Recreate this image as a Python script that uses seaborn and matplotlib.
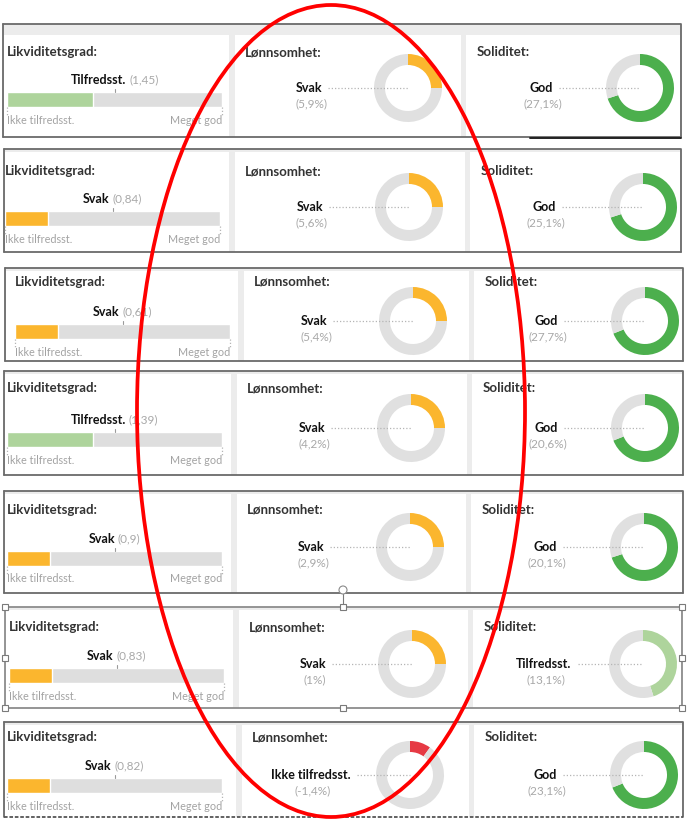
import matplotlib
matplotlib.use("Agg")
import matplotlib.pyplot as plt
from matplotlib.patches import Rectangle, Ellipse, Circle
import seaborn as sns

# Values (one entry per dashboard row)
liq_status = ['Tilfredsst.', 'Svak', 'Svak', 'Tilfredsst.', 'Svak', 'Svak', 'Svak']
liq_value = ['1,45', '0,84', '0,61', '1,39', '0,9', '0,83', '0,82']
liq_fill = [0.40, 0.20, 0.20, 0.40, 0.20, 0.20, 0.20]

lonn_status = ['Svak', 'Svak', 'Svak', 'Svak', 'Svak', 'Svak', 'Ikke tilfredsst.']
lonn_value = ['5,9%', '5,6%', '5,4%', '4,2%', '2,9%', '1%', '-1,4%']
lonn_fill = [0.25, 0.25, 0.25, 0.25, 0.25, 0.25, 0.10]

sol_status = ['God', 'God', 'God', 'God', 'God', 'Tilfredsst.', 'God']
sol_value = ['27,1%', '25,1%', '27,7%', '20,6%', '20,1%', '13,1%', '23,1%']
sol_fill = [0.70, 0.70, 0.69, 0.69, 0.70, 0.45, 0.69]

titles = ['Likviditetsgrad:', 'Lønnsomhet:', 'Soliditet:']
scale_low, scale_high = 'Ikke tilfredsst.', 'Meget god'

status_colors = {
    'Ikke tilfredsst.': '#e63a44',
    'Svak': '#fbb62e',
    'Tilfredsst.': '#aed49c',
    'God': '#4caf4d',
}
ring_gray = '#e0e0e0'
bar_gray = '#dedede'

# Layout of the pasted screenshots (pixels, from top left)
tops = [24, 149, 268, 371, 491, 607, 722]
bots = [137, 252, 361, 475, 593, 708, 817]
lefts = [3, 4, 5, 4, 4, 5, 4]
rights = [681, 681, 683, 683, 683, 682, 683]
title_y = [52, 171, 282, 388, 510, 627, 737]
bar_y0 = [92, 211, 324, 432, 551, 668, 778]
bar_x0 = [7, 5, 15, 7, 7, 9, 7]
sep1 = [229, 229, 238, 231, 231, 233, 236]
sep2 = [461, 465, 469, 467, 466, 468, 469]
cx1 = [408, 409, 413, 411, 410, 412, 410]
cx2 = [640, 643, 645, 645, 644, 643, 644]
cy = [88, 207, 321, 428, 547, 664, 775]
BAR_W, BAR_H, R = 215, 15, 34

W, H = 688, 824
sns.set_theme(style='white')
plt.rcParams['font.family'] = ['Lato', 'DejaVu Sans']

fig = plt.figure(figsize=(W / 100, H / 100), dpi=100)
fig.patch.set_facecolor('white')


def px_axes(x, y, w, h, z):
    a = fig.add_axes([x / W, 1 - (y + h) / H, w / W, h / H])
    a.set_zorder(z)
    a.set_xlim(0, w)
    a.set_ylim(h, 0)
    a.axis('off')
    return a


bg = px_axes(0, 0, W, H, 0)
ov = px_axes(0, 0, W, H, 5)
fig.canvas.draw()
renderer = fig.canvas.get_renderer()


def text_width(t):
    return t.get_window_extent(renderer).width


dots = dict(color='#b5b5b5', lw=0.9, ls=(0, (1, 1.6)))

for i in range(7):
    top, bot, left, right = tops[i], bots[i], lefts[i], rights[i]
    # row background and white cells
    bg.add_patch(Rectangle((left, top), right - left, bot - top, fc='#ececec', ec='none'))
    pad = 11 if i == 0 else 3
    cells = [(left + 1, sep1[i]), (sep1[i] + 6, sep2[i]), (sep2[i] + 5, right - 1)]
    for x0, x1 in cells:
        bg.add_patch(Rectangle((x0, top + pad), x1 - x0, bot - top - pad, fc='white', ec='none'))

    # border
    ec = '#8c8c8c' if i == 5 else '#6a6a6a'
    ov.plot([left, right, right], [top, top, bot], color=ec, lw=1.3)
    ov.plot([left, left], [top, bot], color=ec, lw=1.3)
    if i == 6:
        ov.plot([left, right], [bot, bot], color='#555555', lw=1.3, ls=(0, (2, 1)))
    else:
        ov.plot([left, right], [bot, bot], color=ec, lw=1.3)

    # titles
    ov.text(bar_x0[i], title_y[i], titles[0], fontsize=9.5, fontweight='bold', color='#333333', va='center')
    ov.text(sep1[i] + 16, title_y[i], titles[1], fontsize=9.5, fontweight='bold', color='#333333', va='center')
    ov.text(sep2[i] + 16, title_y[i], titles[2], fontsize=9.5, fontweight='bold', color='#333333', va='center')

    # Likviditetsgrad bar
    axb = px_axes(bar_x0[i], bar_y0[i], BAR_W, BAR_H, 2)
    sns.barplot(x=[1.0], y=[''], orient='h', color=bar_gray, width=1, saturation=1, ax=axb)
    sns.barplot(x=[liq_fill[i]], y=[''], orient='h', color=status_colors[liq_status[i]],
                width=1, saturation=1, ax=axb)
    axb.set_xlim(0, 1)
    axb.set_ylim(0.5, -0.5)
    axb.axis('off')

    bx_mid = bar_x0[i] + BAR_W / 2
    ly = bar_y0[i] - 12
    t1 = ov.text(0, ly, liq_status[i], fontsize=9, fontweight='bold', color='#111111', va='center')
    t2 = ov.text(0, ly, '(' + liq_value[i] + ')', fontsize=8.5, color='#a8a8a8', va='center')
    w1, w2 = text_width(t1), text_width(t2)
    start = bx_mid - (w1 + 3 + w2) / 2
    t1.set_x(start)
    t2.set_x(start + w1 + 3)
    ov.plot([bx_mid, bx_mid], [bar_y0[i] - 3, bar_y0[i]], color='#9a9a9a', lw=0.8)
    for ex in (bar_x0[i], bar_x0[i] + BAR_W):
        ov.plot([ex, ex], [bar_y0[i] + BAR_H, bar_y0[i] + BAR_H + 8], **dots)
    ov.text(bar_x0[i], bar_y0[i] + BAR_H + 13, scale_low, fontsize=7.8, color='#a3a3a3', va='center', ha='left')
    ov.text(bar_x0[i] + BAR_W, bar_y0[i] + BAR_H + 13, scale_high, fontsize=7.8, color='#a3a3a3',
            va='center', ha='right')

    # Lønnsomhet and Soliditet donuts
    for cx, status, value, fill in ((cx1[i], lonn_status[i], lonn_value[i], lonn_fill[i]),
                                    (cx2[i], sol_status[i], sol_value[i], sol_fill[i])):
        axd = px_axes(cx - R, cy[i] - R, 2 * R, 2 * R, 2)
        axd.pie([fill, 1 - fill], colors=[status_colors[status], ring_gray], startangle=90,
                counterclock=False, wedgeprops=dict(width=11 / R, linewidth=0))
        axd.set_xlim(-1, 1)
        axd.set_ylim(-1, 1)
        axd.set_aspect('equal')
        axd.axis('off')

        lt = ov.text(cx - 99, cy[i], status, fontsize=9, fontweight='bold', color='#111111',
                     ha='center', va='center')
        ov.text(cx - 97, cy[i] + 16, '(' + value + ')', fontsize=8.5, color='#a8a8a8',
                ha='center', va='center')
        lx = cx - 99 + text_width(lt) / 2 + 6
        ov.plot([lx, cx], [cy[i], cy[i]], **dots)

# dark strip under the first row's right cell
ov.plot([530, rights[0]], [bots[0] + 1, bots[0] + 1], color='#222222', lw=1.4)

# selection handles around row 6
hx = [lefts[5], 343, rights[5]]
hy = [tops[5], (tops[5] + bots[5]) / 2, bots[5]]
for x in hx:
    for y in hy:
        if x == 343 and y == hy[1]:
            continue
        ov.add_patch(Rectangle((x - 3, y - 3), 6, 6, fc='white', ec='#7a7a7a', lw=0.8, zorder=6))
ov.plot([343, 343], [594, tops[5] - 3], color='#7a7a7a', lw=0.8)
ov.add_patch(Circle((343, 590), 4, fc='white', ec='#8a8a8a', lw=0.8, zorder=6))

# red highlight ellipse
ov.add_patch(Ellipse((331, 411), 388, 812, fill=False, ec='#ff0000', lw=2.7, zorder=7))

fig.savefig('out.png', dpi=100)
